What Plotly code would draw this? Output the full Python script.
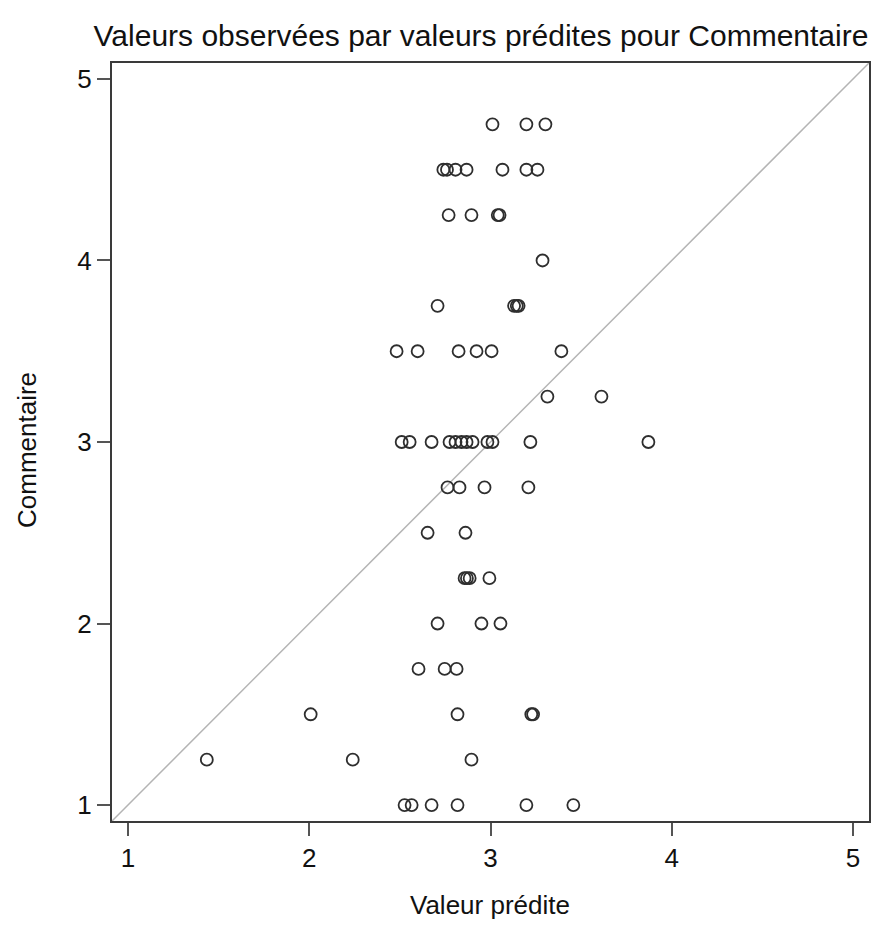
import plotly.graph_objects as go

# Observed vs predicted values for "Commentaire"
predite = [
    3.011, 3.198, 3.303,                                   # 4.75
    2.740, 2.760, 2.807, 2.868, 3.066, 3.198, 3.259,       # 4.50
    2.769, 2.895, 3.040, 3.050,                            # 4.25
    3.287,                                                 # 4.00
    2.708, 3.130, 3.145, 3.155,                            # 3.75
    2.482, 2.598, 2.824, 2.923, 3.006, 3.391,              # 3.50
    3.314, 3.612,                                          # 3.25
    2.510, 2.554, 2.675, 2.774, 2.807, 2.840, 2.868,
    2.901, 2.983, 3.011, 3.220, 3.871,                     # 3.00
    2.763, 2.829, 2.967, 3.209,                            # 2.75
    2.653, 2.862,                                          # 2.50
    2.857, 2.870, 2.885, 2.994,                            # 2.25
    2.708, 2.950, 3.055,                                   # 2.00
    2.603, 2.747, 2.813,                                   # 1.75
    2.008, 2.818, 3.225, 3.235,                            # 1.50
    1.435, 2.240, 2.895,                                   # 1.25
    2.526, 2.565, 2.675, 2.818, 3.198, 3.457,              # 1.00
]
observee = (
    [4.75] * 3 + [4.5] * 7 + [4.25] * 4 + [4.0] * 1 + [3.75] * 4
    + [3.5] * 6 + [3.25] * 2 + [3.0] * 12 + [2.75] * 4 + [2.5] * 2
    + [2.25] * 4 + [2.0] * 3 + [1.75] * 3 + [1.5] * 4 + [1.25] * 3
    + [1.0] * 6
)

tick_vals = [1, 2, 3, 4, 5]
tick_text = ["1", "2", "3", "4", "5"]
axis_range = [0.912, 5.088]

titre = "Valeurs observées par valeurs prédites pour Commentaire"
titre_x = "Valeur prédite"
titre_y = "Commentaire"

FONT = "Liberation Sans, Arial, sans-serif"

fig = go.Figure()

# identity reference line
fig.add_shape(
    type="line", xref="x", yref="y",
    x0=axis_range[0], y0=axis_range[0], x1=axis_range[1], y1=axis_range[1],
    line=dict(color="#b4b4b4", width=1.5), layer="below",
)

fig.add_trace(go.Scatter(
    x=predite, y=observee, mode="markers",
    marker=dict(symbol="circle-open", size=12, color="#2e2e2e",
                line=dict(width=1.8, color="#2e2e2e")),
    showlegend=False, hoverinfo="x+y",
))

axis_common = dict(
    range=axis_range, tickvals=tick_vals, ticktext=tick_text,
    showgrid=False, zeroline=False,
    showline=True, mirror=True, linecolor="#3a3a3a", linewidth=2,
    ticks="outside", ticklen=13, tickwidth=2, tickcolor="#555555",
    tickfont=dict(family=FONT, size=26, color="#111111"),
)

fig.update_layout(
    width=884, height=925,
    margin=dict(l=112, r=15, t=63, b=104),
    paper_bgcolor="white", plot_bgcolor="white",
    xaxis=dict(**axis_common),
    yaxis=dict(**axis_common),
    title=dict(text=titre, x=481 / 884, xref="container", xanchor="center",
               y=1 - 35 / 925, yref="container", yanchor="middle",
               font=dict(family=FONT, size=30, color="#111111")),
    annotations=[
        dict(text=titre_x, xref="paper", yref="paper",
             x=(490 - 112) / 757, y=-(905 - 821) / 758,
             xanchor="center", yanchor="middle", showarrow=False,
             font=dict(family=FONT, size=26, color="#111111")),
        dict(text=titre_y, xref="paper", yref="paper",
             x=(27 - 112) / 757, y=(821 - 450) / 758, textangle=-90,
             xanchor="center", yanchor="middle", showarrow=False,
             font=dict(family=FONT, size=26, color="#111111")),
    ],
)

fig.write_html("out.html")
